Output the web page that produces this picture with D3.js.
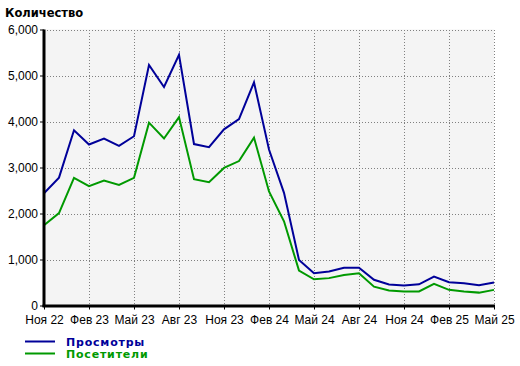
<!DOCTYPE html>
<html><head><meta charset="utf-8">
<script src="https://cdn.jsdelivr.net/npm/d3@7"></script>
<style>body{margin:0;background:#fff}svg{display:block}</style>
</head><body>
<svg id="c" width="520" height="366"></svg>
<script>
const months = ["Ноя 22","Дек 22","Янв 23","Фев 23","Мар 23","Апр 23","Май 23","Июн 23","Июл 23","Авг 23","Сен 23","Окт 23","Ноя 23","Дек 23","Янв 24","Фев 24","Мар 24","Апр 24","Май 24","Июн 24","Июл 24","Авг 24","Сен 24","Окт 24","Ноя 24","Дек 24","Янв 25","Фев 25","Мар 25","Апр 25","Май 25"];
const views = [2440,2780,3810,3500,3630,3470,3680,5230,4750,5450,3510,3440,3830,4050,4850,3390,2450,990,700,740,820,820,560,455,435,460,630,505,485,440,500];
const visitors = [1745,2010,2775,2595,2715,2620,2775,3975,3630,4095,2745,2680,2990,3140,3650,2480,1830,760,570,595,665,700,410,325,305,305,470,340,305,280,340];
const yTicks = [0,1000,2000,3000,4000,5000,6000];
const xTickLabels = ["Ноя 22","Фев 23","Май 23","Авг 23","Ноя 23","Фев 24","Май 24","Авг 24","Ноя 24","Фев 25","Май 25"];
const seriesNames = ["Просмотры","Посетители"];
const colors = ["#000099","#009900"];

const svg = d3.select("#c");
const L=44, R=494, T=29.5, B=305.5;
const x = d3.scalePoint().domain(months).range([L,R]);
const y = d3.scaleLinear().domain([0,6000]).range([B,T]);

svg.append("rect").attr("x",L).attr("y",T).attr("width",R-L).attr("height",B-T).attr("fill","#f4f4f4");

// grid
const g = svg.append("g").attr("stroke","#808080").attr("stroke-width",1).attr("stroke-dasharray","1,2").attr("shape-rendering","crispEdges");
yTicks.filter(d=>d>0).forEach(d=>{
  g.append("line").attr("x1",L).attr("x2",R).attr("y1",Math.round(y(d))+0.5).attr("y2",Math.round(y(d))+0.5);
});
xTickLabels.forEach(m=>{
  if (x(m)===L) return;
  g.append("line").attr("x1",Math.round(x(m))+0.5).attr("x2",Math.round(x(m))+0.5).attr("y1",T).attr("y2",B);
});

// lines
const line = d3.line().x((d,i)=>x(months[i])).y(d=>y(d));
[views, visitors].forEach((s,k)=>{
  svg.append("path").attr("d",line(s)).attr("fill","none").attr("stroke",colors[k]).attr("stroke-width",2).attr("stroke-linejoin","miter");
});

// axes
const yAxis = d3.axisLeft(y).tickValues(yTicks).tickFormat(d3.format(",")).tickSize(4).tickPadding(2);
const ya = svg.append("g").attr("transform",`translate(${L},0)`).call(yAxis);
ya.select(".domain").remove();
ya.selectAll("line").attr("stroke","#000");
ya.selectAll("text").attr("font-family","Liberation Sans, Arial, sans-serif").attr("font-size",12).attr("fill","#000");
svg.append("line").attr("x1",L).attr("x2",L).attr("y1",T).attr("y2",B+1.5).attr("stroke","#000").attr("stroke-width",3);

const xAxis = d3.axisBottom(x).tickValues(xTickLabels).tickSize(4).tickPadding(6);
const xa = svg.append("g").attr("transform",`translate(0,${B})`).call(xAxis);
xa.select(".domain").remove();
xa.selectAll("line").attr("stroke","#000");
xa.selectAll("text").attr("font-family","Liberation Sans, Arial, sans-serif").attr("font-size",12).attr("fill","#000");
svg.append("line").attr("x1",L-1.5).attr("x2",R+1).attr("y1",B+0.5).attr("y2",B+0.5).attr("stroke","#000").attr("stroke-width",3);

// title
svg.append("text").attr("x",5).attr("y",17).text("Количество")
  .attr("font-family","DejaVu Sans, sans-serif").attr("font-weight","bold").attr("font-size",11.5).attr("fill","#000");

// legend
seriesNames.forEach((n,k)=>{
  const ly = 341.5 + k*12;
  svg.append("line").attr("x1",25).attr("x2",55).attr("y1",ly).attr("y2",ly).attr("stroke",colors[k]).attr("stroke-width",2);
  svg.append("text").attr("x",66).attr("y",ly+4).text(n)
    .attr("font-family","DejaVu Sans, sans-serif").attr("font-weight","bold").attr("font-size",11).attr("letter-spacing",0.8).attr("fill",colors[k]);
});
</script>
</body></html>
